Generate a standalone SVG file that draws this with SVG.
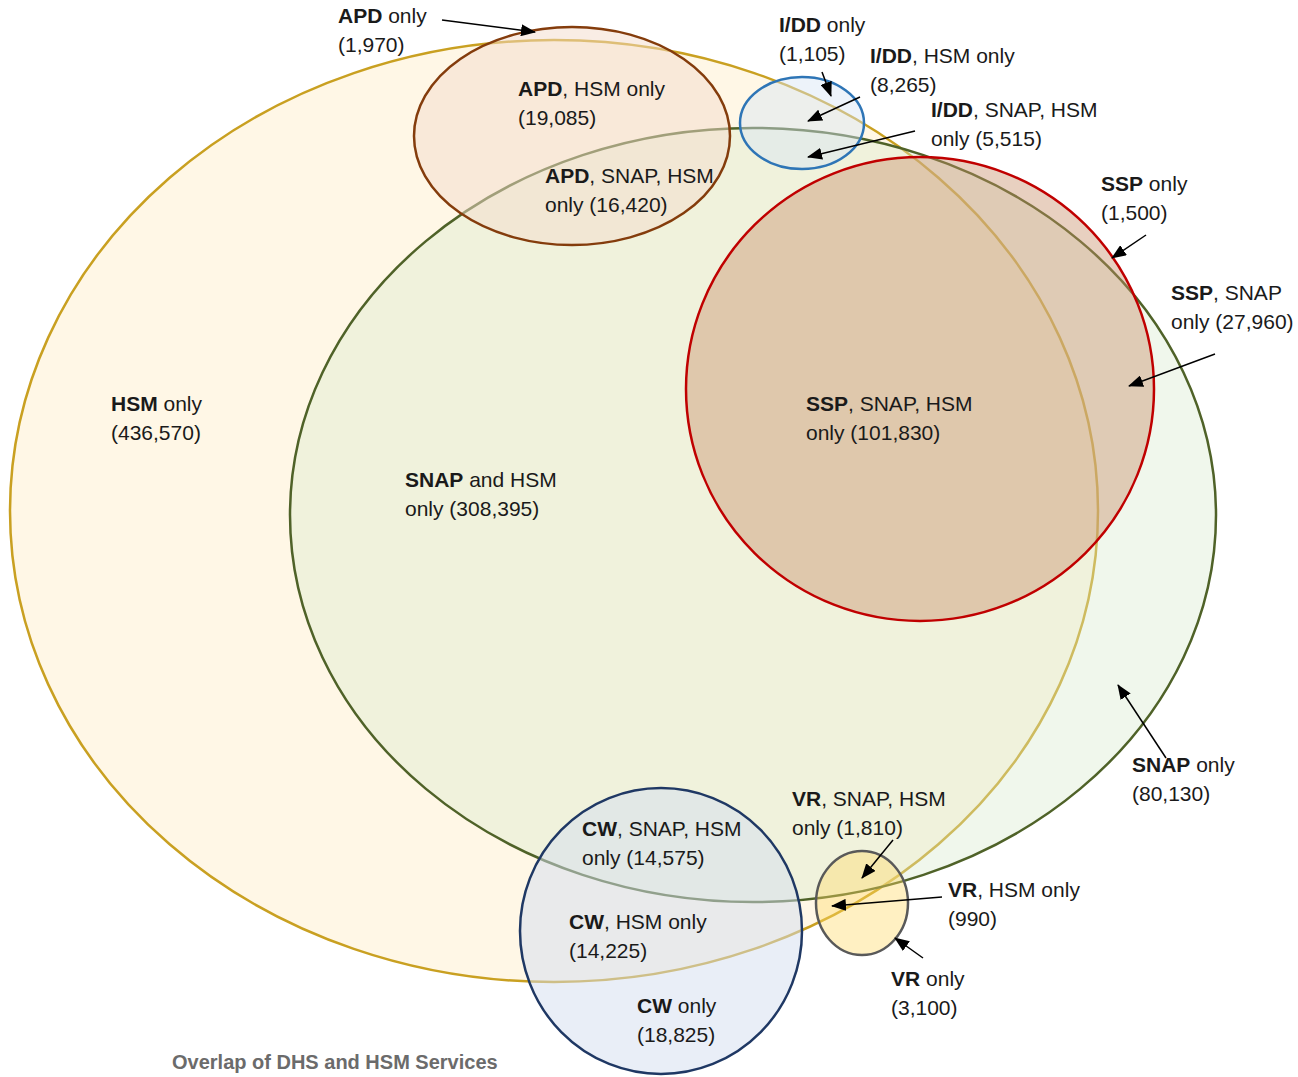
<svg xmlns="http://www.w3.org/2000/svg" width="1298" height="1077" viewBox="0 0 1298 1077">
<defs>
<marker id="ah" markerWidth="15" markerHeight="12" refX="14" refY="6" orient="auto" markerUnits="userSpaceOnUse">
<path d="M0,0 L15,6 L0,12 Z" fill="#000"/>
</marker>
<style>
text{font-family:"Liberation Sans",Arial,sans-serif;font-size:21px;fill:#1a1a1a}
.b{font-weight:bold}
.arr{stroke:#000;stroke-width:1.5;fill:none;marker-end:url(#ah)}
.title{font-size:20px;font-weight:bold;fill:#6b6b6b}
</style>
</defs>
<rect width="1298" height="1077" fill="#fff"/>
<g id="hsm"><ellipse cx="554" cy="511" rx="544" ry="471" fill="#fff7e6" stroke="#c9a021" stroke-width="2.5"/></g>
<g id="snap"><ellipse cx="753" cy="515" rx="463" ry="387" fill="#d7eacc" fill-opacity="0.37" stroke="#4f6228" stroke-width="2.5"/></g>
<g id="apd"><ellipse cx="572" cy="136" rx="158" ry="109" fill="#f4dccc" fill-opacity="0.5" stroke="#843c0c" stroke-width="2.5"/></g>
<g id="idd"><ellipse cx="802" cy="123" rx="62" ry="46" fill="#d6e4f3" fill-opacity="0.45" stroke="#2e75b6" stroke-width="2.5"/></g>
<g id="ssp"><ellipse cx="920" cy="389" rx="234" ry="232" fill="#c8906a" fill-opacity="0.42" stroke="#c00000" stroke-width="2.5"/></g>
<g id="cw"><ellipse cx="661" cy="931" rx="141" ry="143" fill="#d4ddf0" fill-opacity="0.5" stroke="#1f3864" stroke-width="2.5"/></g>
<g id="vr"><ellipse cx="862" cy="903" rx="46" ry="52" fill="#ffd966" fill-opacity="0.4" stroke="#595959" stroke-width="2.5"/></g>
<g id="connectors">
<line class="arr" x1="442" y1="20" x2="535" y2="32"/>
<line class="arr" x1="822" y1="72" x2="831" y2="96"/>
<line class="arr" x1="860" y1="97" x2="808" y2="121"/>
<line class="arr" x1="915" y1="131" x2="808" y2="157"/>
<line class="arr" x1="1146" y1="235" x2="1112" y2="258"/>
<line class="arr" x1="1215" y1="354" x2="1129" y2="386"/>
<line class="arr" x1="1166" y1="758" x2="1118" y2="685"/>
<line class="arr" x1="893" y1="840" x2="862" y2="878"/>
<line class="arr" x1="942" y1="897" x2="832" y2="906"/>
<line class="arr" x1="923" y1="958" x2="895" y2="938"/>
</g>
<g id="labels">
<text x="338" y="23"><tspan class="b">APD</tspan> only</text><text x="338" y="52">(1,970)</text>
<text x="518" y="96"><tspan class="b">APD</tspan>, HSM only</text><text x="518" y="125">(19,085)</text>
<text x="545" y="183"><tspan class="b">APD</tspan>, SNAP, HSM</text><text x="545" y="212">only (16,420)</text>
<text x="779" y="32"><tspan class="b">I/DD</tspan> only</text><text x="779" y="61">(1,105)</text>
<text x="870" y="63"><tspan class="b">I/DD</tspan>, HSM only</text><text x="870" y="92">(8,265)</text>
<text x="931" y="117"><tspan class="b">I/DD</tspan>, SNAP, HSM</text><text x="931" y="146">only (5,515)</text>
<text x="1101" y="191"><tspan class="b">SSP</tspan> only</text><text x="1101" y="220">(1,500)</text>
<text x="1171" y="300"><tspan class="b">SSP</tspan>, SNAP</text><text x="1171" y="329">only (27,960)</text>
<text x="806" y="411"><tspan class="b">SSP</tspan>, SNAP, HSM</text><text x="806" y="440">only (101,830)</text>
<text x="111" y="411"><tspan class="b">HSM</tspan> only</text><text x="111" y="440">(436,570)</text>
<text x="405" y="487"><tspan class="b">SNAP</tspan> and HSM</text><text x="405" y="516">only (308,395)</text>
<text x="1132" y="772"><tspan class="b">SNAP</tspan> only</text><text x="1132" y="801">(80,130)</text>
<text x="792" y="806"><tspan class="b">VR</tspan>, SNAP, HSM</text><text x="792" y="835">only (1,810)</text>
<text x="582" y="836"><tspan class="b">CW</tspan>, SNAP, HSM</text><text x="582" y="865">only (14,575)</text>
<text x="948" y="897"><tspan class="b">VR</tspan>, HSM only</text><text x="948" y="926">(990)</text>
<text x="569" y="929"><tspan class="b">CW</tspan>, HSM only</text><text x="569" y="958">(14,225)</text>
<text x="891" y="986"><tspan class="b">VR</tspan> only</text><text x="891" y="1015">(3,100)</text>
<text x="637" y="1013"><tspan class="b">CW</tspan> only</text><text x="637" y="1042">(18,825)</text>
<text class="title" x="172" y="1069">Overlap of DHS and HSM Services</text>
</g>
</svg>
